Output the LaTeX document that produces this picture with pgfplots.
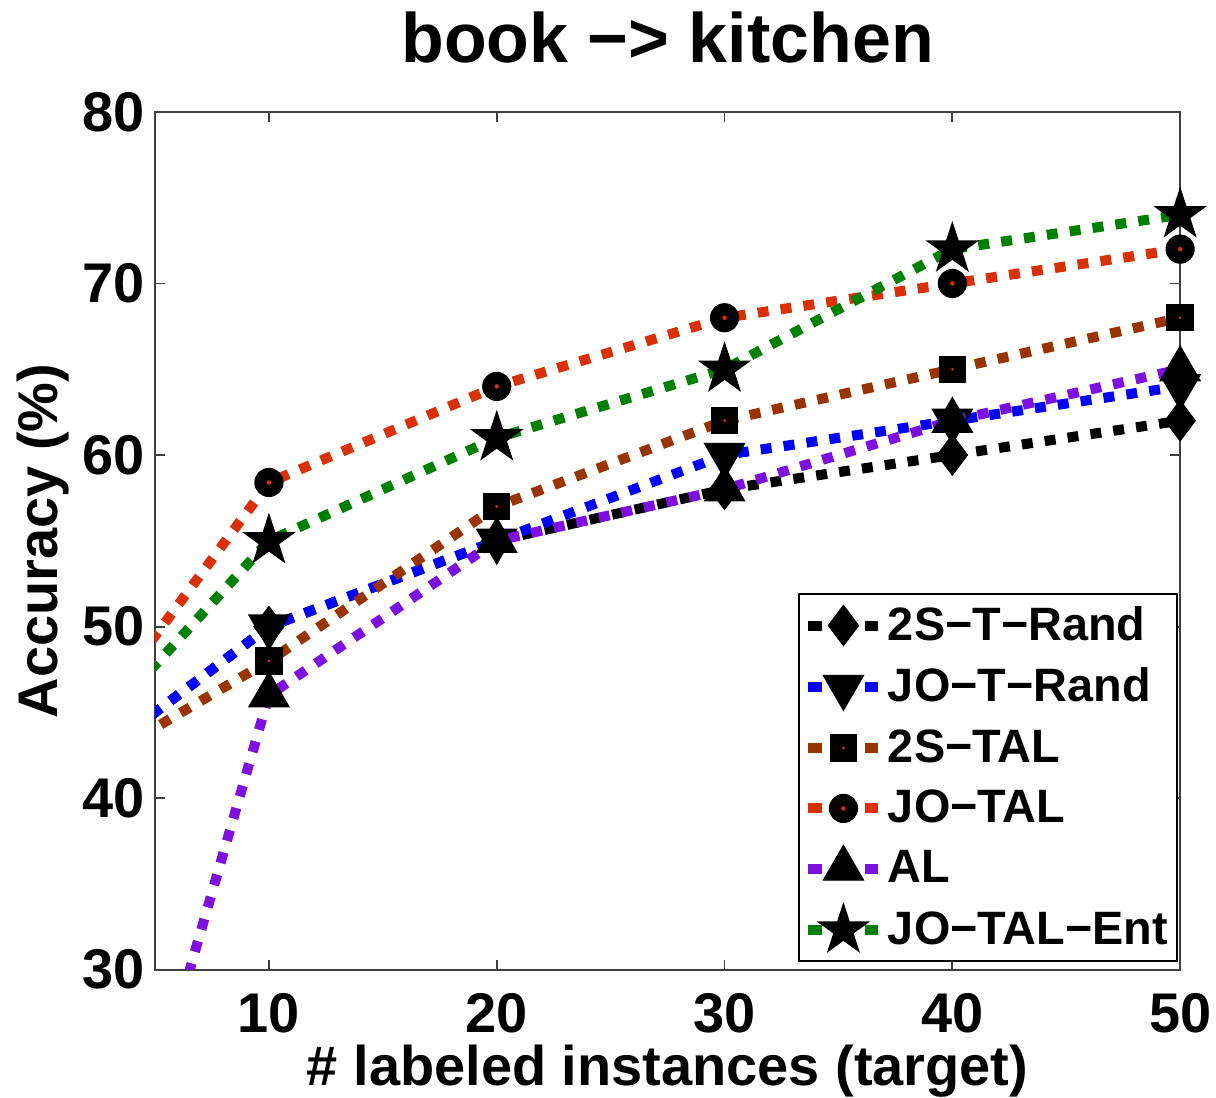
\documentclass[border=0pt]{standalone}
\usepackage{fontspec}
\setmainfont{Liberation Sans}
\usepackage{pgfplots}
\pgfplotsset{compat=1.18}
\definecolor{cRed}{RGB}{218,48,8}
\definecolor{cGreen}{RGB}{0,128,0}
\definecolor{cBlue}{RGB}{0,0,255}
\definecolor{cBrown}{RGB}{153,51,0}
\definecolor{cPurple}{RGB}{125,15,225}
\definecolor{axgray}{gray}{0.25}
\pgfdeclareplotmark{dotcirc}{%
  \pgfsetfillcolor{black}%
  \pgfpathcircle{\pgfpointorigin}{\pgfplotmarksize}\pgfusepathqfillstroke
  \begin{pgfscope}\pgfsetfillcolor{cRed}%
  \pgfpathcircle{\pgfpointorigin}{0.16\pgfplotmarksize}\pgfusepathqfill\end{pgfscope}}
\pgfdeclareplotmark{dotsq}{%
  \pgfsetfillcolor{black}%
  \pgfpathrectangle{\pgfpoint{-\pgfplotmarksize}{-\pgfplotmarksize}}{\pgfpoint{2\pgfplotmarksize}{2\pgfplotmarksize}}\pgfusepathqfillstroke
  \begin{pgfscope}\pgfsetfillcolor{cRed}%
  \pgfpathcircle{\pgfpointorigin}{0.12\pgfplotmarksize}\pgfusepathqfill\end{pgfscope}}
\pgfdeclareplotmark{fstar}{%
  \pgfpathmoveto{\pgfpointpolar{90}{\pgfplotmarksize}}%
  \pgfpathlineto{\pgfpointpolar{126}{0.382\pgfplotmarksize}}%
  \pgfpathlineto{\pgfpointpolar{162}{\pgfplotmarksize}}%
  \pgfpathlineto{\pgfpointpolar{198}{0.382\pgfplotmarksize}}%
  \pgfpathlineto{\pgfpointpolar{234}{\pgfplotmarksize}}%
  \pgfpathlineto{\pgfpointpolar{270}{0.382\pgfplotmarksize}}%
  \pgfpathlineto{\pgfpointpolar{306}{\pgfplotmarksize}}%
  \pgfpathlineto{\pgfpointpolar{342}{0.382\pgfplotmarksize}}%
  \pgfpathlineto{\pgfpointpolar{18}{\pgfplotmarksize}}%
  \pgfpathlineto{\pgfpointpolar{54}{0.382\pgfplotmarksize}}%
  \pgfpathclose\pgfusepathqfillstroke}
\begin{document}
\begin{tikzpicture}
\begin{axis}[
  name=ax,
  scale only axis,
  width=337.2pt, height=282.2pt,
  xmin=5, xmax=50, ymin=30, ymax=80,
  xtick={10,20,30,40,50}, ytick={30,40,50,60,70,80},
  tick align=inside,
  major tick length=3.3pt,
  axis line style={axgray, line width=0.6pt},
  tick style={axgray, line width=0.6pt},
  clip mode=individual,
  /pgf/number format/assume math mode=true,
  ticklabel style={font=\fontsize{18.4}{22}\selectfont\bfseries},
  xticklabel style={inner sep=0pt, anchor=base, yshift=-20.5pt},
  yticklabel style={inner sep=0pt, xshift=-3.3pt},
  title={book −> kitchen},
  title style={font=\fontsize{23}{26}\selectfont\bfseries, inner sep=0pt, at={(axis description cs:0.5,1)}, anchor=base, yshift=10.4pt},
  xlabel={\# labeled instances (target)},
  xlabel style={font=\fontsize{18.4}{22}\selectfont\bfseries, inner sep=0pt, at={(axis description cs:0.5,0)}, anchor=base, yshift=-38.2pt},
  ylabel={Accuracy (\%)},
  ylabel style={font=\fontsize{18.4}{22}\selectfont\bfseries, inner sep=0pt, at={(axis description cs:-0.1094,0.5)}, anchor=center},
  every axis plot/.append style={line width=3.3pt, line cap=butt, dash pattern=on 3.6pt off 4pt},
  legend image code/.code={%
    \draw[#1, solid] (0pt,0pt) -- (4.4pt,0pt);
    \draw[#1, solid] (18.6pt,0pt) -- (23pt,0pt);
    \draw[#1, only marks] plot coordinates {(11.5pt,0pt)};},
  legend style={at={(0.998,0.0093)}, anchor=south east, draw=black, line width=0.6pt, fill=white,
    font=\fontsize{15.4}{18}\selectfont\bfseries, row sep=3.6pt, inner xsep=1.5pt, inner ysep=2pt,
    nodes={inner xsep=1.5pt}},
  legend cell align=left,
]
\addplot[black, mark=diamond*, mark size=6.6pt, mark options={solid, fill=black, draw=black, line width=0.4pt}]
  coordinates {(0,40) (10,50) (20,55) (30,58) (40,60) (50,62)};
\addlegendentry{2S−T−Rand}
\addplot[cBlue, mark=triangle*, mark size=7.6pt, mark options={solid, fill=black, draw=black, line width=0.4pt, rotate=180}]
  coordinates {(0,40) (10,50) (20,55) (30,60) (40,62) (50,64)};
\addlegendentry{JO−T−Rand}
\addplot[cBrown, mark=dotsq, mark size=4.3pt, mark options={solid, fill=black, draw=black, line width=0.4pt}]
  coordinates {(0,40.2) (10,48) (20,57) (30,62) (40,65) (50,68)};
\addlegendentry{2S−TAL}
\addplot[cRed, mark=dotcirc, mark size=4.6pt, mark options={solid, fill=black, draw=black, line width=0.4pt}]
  coordinates {(0,40.5) (10,58.4) (20,64) (30,68) (40,70) (50,72)};
\addlegendentry{JO−TAL}
\addplot[cPurple, mark=triangle*, mark size=7.6pt, mark options={solid, fill=black, draw=black, line width=0.4pt}]
  coordinates {(0,0) (10,46) (20,55) (30,58) (40,62) (50,65)};
\addlegendentry{AL}
\addplot[cGreen, mark=fstar, mark size=8.6pt, mark options={solid, fill=black, draw=black, line width=0.4pt}]
  coordinates {(0,40.5) (10,55) (20,61) (30,65) (40,72) (50,74)};
\addlegendentry{JO−TAL−Ent}
\end{axis}
\path ([shift={(-51pt,-42.1pt)}]ax.south west) rectangle ([shift={(11.8pt,36.8pt)}]ax.north east);
\end{tikzpicture}
\end{document}
